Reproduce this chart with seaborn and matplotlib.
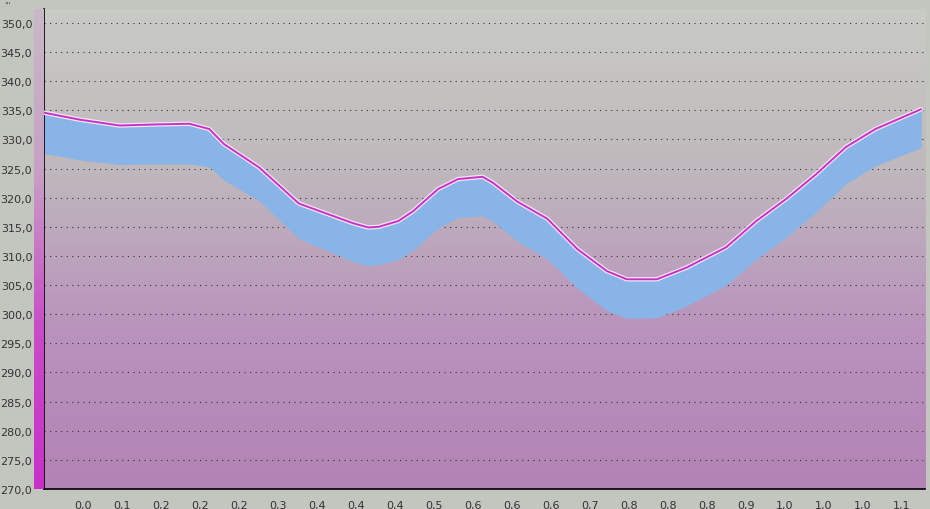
import numpy as np
import pandas as pd
import matplotlib
matplotlib.use("Agg")
import matplotlib.pyplot as plt
import seaborn as sns
from matplotlib.colors import LinearSegmentedColormap

# profile (x in tick-index units, y in value units)
pos = [-1.0, -0.08, 0.94, 1.96, 2.73, 3.24, 3.62, 4.52, 5.54, 6.94, 7.32, 7.58,
       8.09, 8.47, 9.11, 9.62, 10.25, 10.51, 11.15, 11.91, 12.68, 13.44, 13.95,
       14.72, 15.48, 16.5, 17.27, 18.04, 18.8, 19.57, 20.33, 21.5]
upper = [334.6, 333.4, 332.4, 332.6, 332.7, 331.8, 329.2, 325.2, 319.0, 315.6,
         314.9, 315.0, 316.0, 317.7, 321.5, 323.2, 323.6, 322.6, 319.3, 316.4,
         311.2, 307.4, 306.0, 306.0, 308.0, 311.5, 316.0, 319.8, 324.0, 328.7,
         331.8, 335.2]
lower = [327.6, 326.5, 325.7, 325.8, 325.8, 325.3, 323.0, 319.5, 313.0, 309.0,
         308.3, 308.5, 309.4, 311.0, 314.8, 316.6, 316.9, 316.0, 312.5, 309.5,
         304.5, 300.6, 299.3, 299.4, 301.4, 305.0, 309.4, 313.2, 317.5, 322.4,
         325.5, 328.6]
tick_labels = ["0,0", "0,1", "0,2", "0,2", "0,2", "0,3", "0,4", "0,4", "0,4", "0,5",
               "0,6", "0,6", "0,6", "0,7", "0,8", "0,8", "0,8", "0,9", "1,0", "1,0",
               "1,0", "1,1"]
y_ticks = list(range(270, 351, 5))

df = pd.DataFrame({"pos": pos, "upper": upper, "lower": lower})

sns.set_style("white")
fig = plt.figure(figsize=(9.3, 5.1), dpi=100, facecolor="#c3c5bf")
ax = fig.add_axes([44 / 930, 20 / 510, 881 / 930, 480 / 510])
ax.set_facecolor("#c3c5bf")

xmin, xmax, ymin, ymax = -1.0, 21.6, 270, 352.4
bg = LinearSegmentedColormap.from_list("bg", ["#c9cbc5", "#bfb8bc", "#b993bd", "#b283b4"])
grad = np.linspace(0, 1, 256).reshape(-1, 1)
ax.imshow(grad, cmap=bg, aspect="auto", extent=[xmin, xmax, ymin, ymax],
          origin="upper", zorder=0)

ax.fill_between(df["pos"], df["lower"], df["upper"], color="#88b4e8", lw=0, zorder=2)
sns.lineplot(data=df, x="pos", y="upper", color="#f2e6f2", lw=3.2, ax=ax, zorder=3)
sns.lineplot(data=df, x="pos", y="upper", color="#c932c9", lw=1.4, ax=ax, zorder=4)

ax.set_xlim(xmin, xmax)
ax.set_ylim(ymin, ymax)
ax.set_xticks(range(len(tick_labels)))
ax.set_xticklabels(tick_labels)
ax.set_yticks(y_ticks)
ax.set_yticklabels([f"{v:.1f}".replace(".", ",") for v in y_ticks])
ax.tick_params(labelsize=8, colors="#333333", length=5, width=1.2, direction="out")
ax.tick_params(axis="x", pad=3)
ax.set_xlabel("")
ax.set_ylabel("")
for v in y_ticks[1:]:
    ax.axhline(v, color="#333333", lw=0.8, ls=(0, (1, 4)), zorder=1)
for s in ["top", "right"]:
    ax.spines[s].set_visible(False)
for s in ["left", "bottom"]:
    ax.spines[s].set_color("black")
    ax.spines[s].set_linewidth(1.2)

# magenta strip along the value axis
strip = fig.add_axes([34 / 930, 20 / 510, 10 / 930, 480 / 510])
scm = LinearSegmentedColormap.from_list("strip", ["#c9b9c6", "#c8a0c4", "#c84cc8", "#c830c8"])
strip.imshow(grad, cmap=scm, aspect="auto")
strip.axis("off")

fig.text(4 / 930, 1 - 6 / 510, "'''", fontsize=6, color="#555555", va="center")
fig.savefig("out.png", dpi=100, facecolor=fig.get_facecolor())
